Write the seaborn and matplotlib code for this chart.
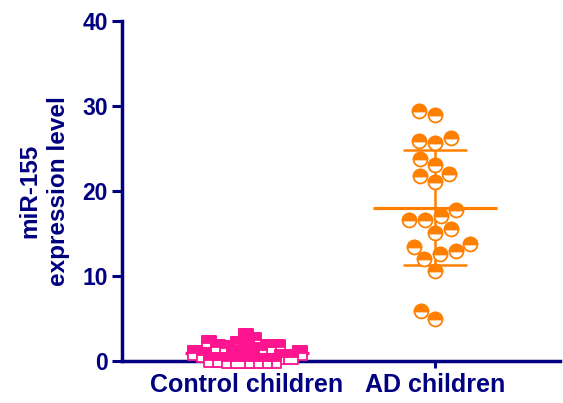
import numpy as np
import pandas as pd
import matplotlib
matplotlib.use("Agg")
import matplotlib.pyplot as plt
from matplotlib.markers import MarkerStyle
import seaborn as sns

categories = ["Control children", "AD children"]
control_values = [3.0, 2.5, 2.1, 2.0, 1.9, 1.7, 1.65, 1.6, 1.5, 1.3,
                  0.9, 0.9, 0.9, 0.9, 0.9, 0.7, 0.5, 0.5, 0.1, 0.1,
                  0.05, 0.05, 0.02, 0.0, 0.0, 0.0]
ad_values = [29.4, 28.9, 26.2, 25.9, 25.6, 23.8, 23.1, 21.8, 22.0, 21.1,
             17.8, 17.1, 16.6, 16.6, 15.5, 15.1, 13.8, 13.4, 12.9, 12.6,
             12.0, 10.6, 5.9, 4.9]
yticks = [0, 10, 20, 30, 40]
y_label = "miR-155\nexpression level"

NAVY = "#000080"
PINK = "#FF1490"
ORANGE = "#FF8000"
colors = {categories[0]: PINK, categories[1]: ORANGE}
markers = {categories[0]: "s", categories[1]: "o"}

df = pd.DataFrame({
    "group": [categories[0]] * len(control_values) + [categories[1]] * len(ad_values),
    "value": control_values + ad_values,
})

sns.set_theme(style="ticks")
plt.rcParams["font.family"] = ["Liberation Sans", "DejaVu Sans"]

fig = plt.figure(figsize=(5.63, 4.03), dpi=100)
ax = fig.add_axes([122 / 563, 42 / 403, 438 / 563, 340 / 403])

sns.pointplot(data=df, x="group", y="value", order=categories, hue="group",
              palette=colors, errorbar="sd", capsize=0.33, marker="_",
              markersize=89, markeredgewidth=2.3, linestyle="none",
              err_kws={"linewidth": 1.8, "zorder": 2}, legend=False, ax=ax,
              zorder=2)

LW = 1.3
resize = []
for cat, layout_size in [(categories[0], 4.9), (categories[1], 10)]:
    sub = df[df["group"] == cat]
    col = colors[cat]
    n0 = len(ax.collections)
    sns.swarmplot(data=sub, x="group", y="value", order=categories,
                  marker=markers[cat], color="white", edgecolor=col,
                  linewidth=LW, size=layout_size, ax=ax, zorder=3)
    sns.swarmplot(data=sub, x="group", y="value", order=categories,
                  marker=MarkerStyle(markers[cat], fillstyle="top"),
                  color=col, edgecolor=col, linewidth=LW,
                  size=layout_size, ax=ax, zorder=4)
    new = ax.collections[n0:]
    if layout_size != 10:
        resize.extend(new)

ax.set_xlim(-0.665, 1.665)
ax.set_ylim(0, 40)
ax.set_yticks(yticks)
ax.set_xlabel("")
ax.set_ylabel(y_label, fontsize=17.5, fontweight="bold", color=NAVY,
              linespacing=1.3, labelpad=9)
for s in ["top", "right"]:
    ax.spines[s].set_visible(False)
for s in ["left", "bottom"]:
    ax.spines[s].set_color(NAVY)
    ax.spines[s].set_linewidth(2.5)
ax.tick_params(axis="y", length=7, width=2.2, colors=NAVY, labelsize=16.5, pad=3)
ax.tick_params(axis="x", length=5, width=2.2, colors=NAVY, labelsize=18, pad=4)
for lab in ax.get_xticklabels() + ax.get_yticklabels():
    lab.set_fontweight("bold")
ax.grid(False)

for c in ax.collections:
    c.set_clip_on(False)
for l in ax.lines:
    l.set_clip_on(False)

fig.canvas.draw()
for c in resize:
    if "draw" in c.__dict__:
        del c.draw
    c.set_sizes([100])

fig.savefig("out.png", dpi=100)
